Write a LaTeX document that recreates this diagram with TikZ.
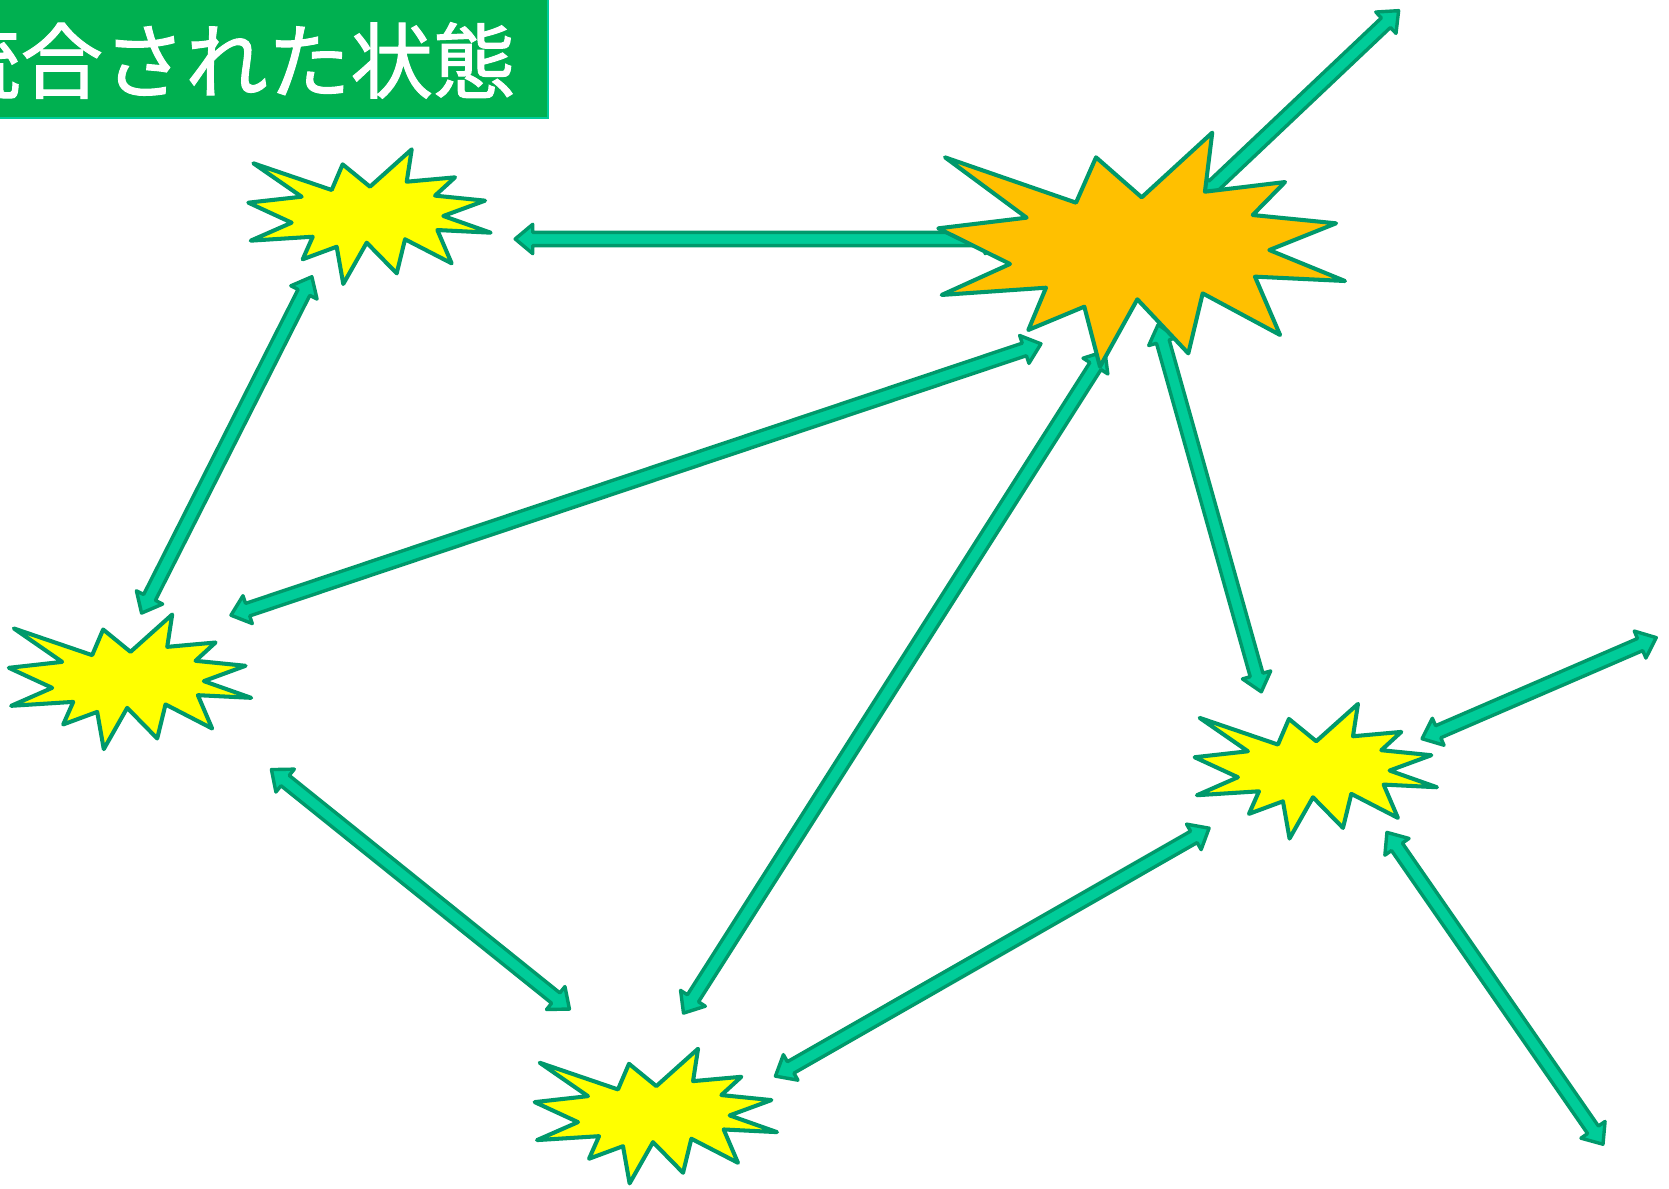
\documentclass[tikz,border=0pt]{standalone}
\usepackage{fontspec}
\newfontfamily\cjk[FakeBold=1.2]{Noto Sans CJK JP}
\usetikzlibrary{calc}
\definecolor{arrfill}{HTML}{00CC99}
\definecolor{arrline}{HTML}{00996B}
\definecolor{titlefill}{HTML}{00B050}
\definecolor{titleline}{HTML}{00CC99}
\definecolor{byellow}{HTML}{FFFF00}
\definecolor{borange}{HTML}{FFC000}
\tikzset{
  blockarrow/.style={fill=arrfill, draw=arrline, line width=3.2pt, line join=round},
  burstbox/.style={draw=arrline, line width=3.8pt, line join=round},
  yburst/.pic={
    \draw[burstbox, fill=byellow] (-110,-51.6) -- (-36.4,-26.5) -- (-26.1,-50.6) -- (-0.4,-29.6)
      -- (38.8,-64.7) -- (34.1,-34.3) -- (79.5,-38.4) -- (60.7,-21.2) -- (107.7,-16.5)
      -- (68.5,-2.1) -- (113,13.6) -- (62.9,11.1) -- (76.3,42.4) -- (32.5,19.8)
      -- (24.7,51.8) -- (-3.5,23) -- (-25.5,61.8) -- (-31.7,26.8) -- (-63.6,38.6)
      -- (-54.2,17.4) -- (-112.5,21.1) -- (-74,4.2) -- (-114.7,-14.6) -- (-64.6,-20.2) -- cycle;
  },
  oburst/.pic={
    \draw[burstbox, fill=borange] (-185.2,-87.2) -- (-62.1,-44.6) -- (-43.3,-87.2) -- (-0.4,-49.6)
      -- (65.9,-110.4) -- (59,-54.9) -- (134.3,-64) -- (103.9,-33) -- (182.2,-25.2)
      -- (119.5,-0.1) -- (190.6,29) -- (106,24.9) -- (129.6,79.7) -- (56.9,40.6)
      -- (43.4,97) -- (-4.5,46.2) -- (-39.6,109.5) -- (-54.3,53.1) -- (-106.9,75)
      -- (-90.3,35.3) -- (-188.3,42.1) -- (-124.1,13) -- (-191.5,-20.5) -- (-108.5,-30.5) -- cycle;
  }
}
\newcommand{\dblarrow}[2]{%
  \path let \p1=($(#2)-(#1)$) in
    \pgfextra{\pgfmathsetmacro{\tmpang}{atan2(\y1,\x1)}%
      \pgfmathsetmacro{\tmplen}{veclen(\x1,\y1)}%
      \pgfmathsetmacro{\tmpb}{\tmplen-16.5}%
      \global\let\Arang\tmpang\global\let\Arlen\tmplen\global\let\Arb\tmpb};
  \begin{scope}[shift={(#1)}, rotate=\Arang]
    \draw[blockarrow] (0pt,0pt) -- (16.5pt,13.8pt) -- (16.5pt,6.2pt) -- (\Arb pt,6.2pt)
      -- (\Arb pt,13.8pt) -- (\Arlen pt,0pt) -- (\Arb pt,-13.8pt) -- (\Arb pt,-6.2pt)
      -- (16.5pt,-6.2pt) -- (16.5pt,-13.8pt) -- cycle;
  \end{scope}}
\begin{document}
\begin{tikzpicture}[x=1pt, y=-1pt]
  \useasboundingbox (0,0) rectangle (1568,1117);
  \clip (0,0) rectangle (1568,1117);
  \fill[white] (0,0) rectangle (1568,1117);
  % title
  \draw[fill=titlefill, draw=titleline, line width=1.5pt] (-10,-10) rectangle (515,111);
  \node[text=white, font=\cjk\fontsize{77.5}{82}\selectfont, inner sep=0pt] (title) at (213,57) {統合された状態};
  % connector end points
  \coordinate (a1s) at (484,224.5);  \coordinate (a1e) at (942,224.5);
  \coordinate (a2s) at (1314,10);    \coordinate (a2e) at (1128,186);
  \coordinate (a3s) at (293,260);    \coordinate (a3e) at (133,576);
  \coordinate (a4s) at (217,578);    \coordinate (a4e) at (978,323);
  \coordinate (a5s) at (1038,330);   \coordinate (a5e) at (642,952);
  \coordinate (a6s) at (1088,305);   \coordinate (a6e) at (1185,650);
  \coordinate (a7s) at (255,723);    \coordinate (a7e) at (535,948);
  \coordinate (a8s) at (728.5,1011); \coordinate (a8e) at (1136,778);
  \coordinate (a9s) at (1336,694);   \coordinate (a9e) at (1556,599);
  \coordinate (a10s) at (1303,782);  \coordinate (a10e) at (1506,1075);
  \dblarrow{a1s}{a1e}
  \dblarrow{a2s}{a2e}
  \dblarrow{a3s}{a3e}
  \dblarrow{a4s}{a4e}
  \dblarrow{a5s}{a5e}
  \dblarrow{a6s}{a6e}
  \dblarrow{a7s}{a7e}
  \dblarrow{a8s}{a8e}
  \dblarrow{a9s}{a9e}
  \dblarrow{a10s}{a10e}
  % bursts
  \pic (burstTL) at (348,205) {yburst};
  \pic (burstL) at (123,642) {yburst};
  \pic (burstR) at (1237,726) {yburst};
  \pic (burstB) at (617,1050) {yburst};
  \pic (burstO) at (1073,235) {oburst};
\end{tikzpicture}
\end{document}
